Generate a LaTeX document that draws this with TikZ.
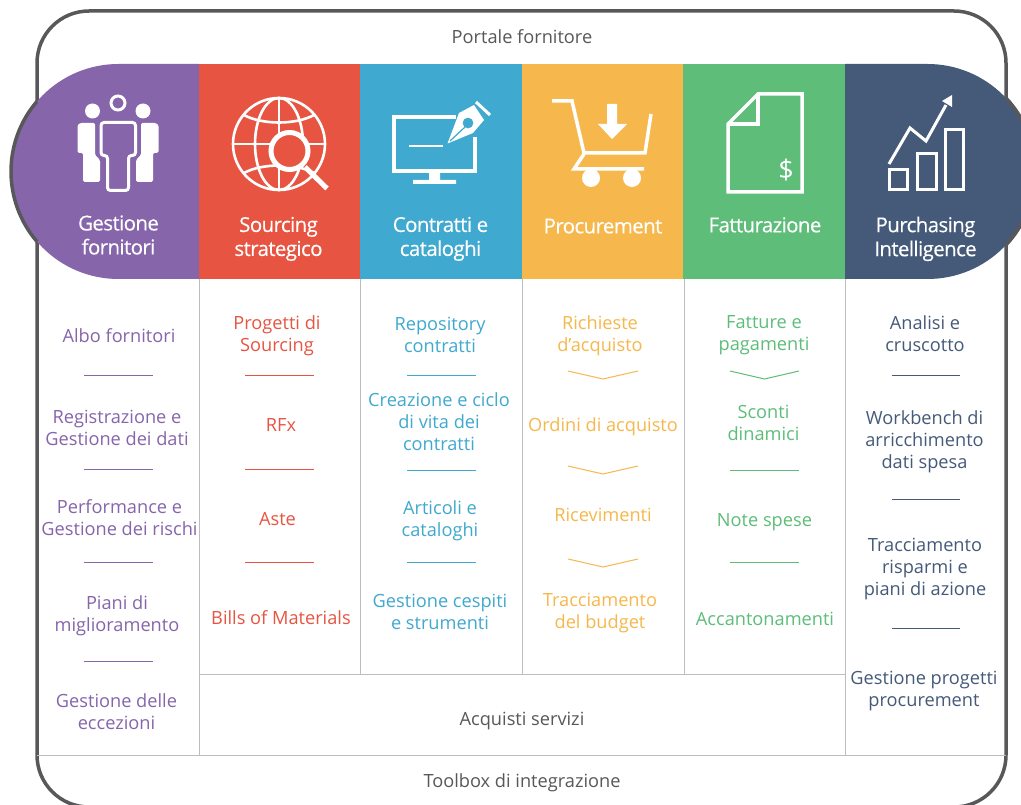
\documentclass[tikz,border=0pt]{standalone}
\usepackage{fontspec}
\setmainfont{Open Sans}
\definecolor{cpur}{HTML}{8665AB}
\definecolor{cred}{HTML}{E75542}
\definecolor{cblu}{HTML}{40A9CF}
\definecolor{cora}{HTML}{F6B84C}
\definecolor{cgre}{HTML}{5DBD79}
\definecolor{cnav}{HTML}{455A79}
\definecolor{cfrm}{HTML}{58585A}
\definecolor{cgrid}{HTML}{BDBDBD}
\definecolor{ctxt}{HTML}{58585A}
\tikzset{
  x=1pt,y=-1pt,
  bodytxt/.style={align=center,inner sep=0pt,yshift=-0.7pt,font=\fontsize{18.2}{22}\selectfont,execute at begin node=\strut,execute at end node=\strut},
  headtxt/.style={align=center,inner sep=0pt,text=white,font=\fontsize{20.5}{24}\selectfont\addfontfeatures{LetterSpace=-3,FakeBold=0.25},execute at begin node=\strut,execute at end node=\strut},
  framelab/.style={bodytxt,text=ctxt},
  frameline/.style={draw=cfrm,line width=3.5pt},
  gridline/.style={draw=cgrid,line width=1pt},
  sepline/.style={line width=1pt},
  ico/.style={draw=white,line width=3pt,fill=none,miter limit=10},
}
\begin{document}
\begin{tikzpicture}
\useasboundingbox (0,0) rectangle (1021,805);
\clip (0,0) rectangle (1021,805);
\fill[white] (0,0) rectangle (1021,805);
% frame
\draw[frameline,rounded corners=52pt] (37,11) rectangle (1006,807);
% grid
\draw[gridline] (199,279) -- (199,755);
\draw[gridline] (360.5,279) -- (360.5,674);
\draw[gridline] (522,279) -- (522,674);
\draw[gridline] (684,279) -- (684,674);
\draw[gridline] (845,279) -- (845,755);
\draw[gridline] (199,674) -- (845,674);
\draw[gridline] (37,755) -- (1006,755);
% header bands
\fill[cpur] (199,64) -- (118.5,64) arc[start angle=-90,end angle=-270,radius=107.5] -- (199,279) -- cycle;
\fill[cred] (199,64) rectangle (360,279);
\fill[cblu] (360,64) rectangle (522,279);
\fill[cora] (522,64) rectangle (683,279);
\fill[cgre] (683,64) rectangle (845,279);
\fill[cnav] (845,64) -- (927.5,64) arc[start angle=-90,end angle=90,radius=107.5] -- (845,279) -- cycle;
% outer arcs of the caps
\draw[frameline] (118.5,171.5) ++(139.3:107.5) arc[start angle=139.3,end angle=220.7,radius=107.5];
\draw[frameline] (927.5,171.5) ++(-43.1:107.5) arc[start angle=-43.1,end angle=43.1,radius=107.5];
% people icon
\fill[white] (92.5,111) circle[radius=7.5] (143,111) circle[radius=7.5];
\draw[white,line width=3pt] (118,103) circle[radius=7];
\fill[white,rounded corners=1.5pt] (77.5,153) -- (77.5,125) -- (80,123) -- (95,123) -- (95,155) -- (100,160) -- (100,182) -- (83,182) -- (83,153) -- cycle;
\fill[white,rounded corners=1.5pt] (158.5,153) -- (158.5,125) -- (156,123) -- (141,123) -- (141,155) -- (136,160) -- (136,182) -- (153,182) -- (153,153) -- cycle;
\draw[white,line width=3pt,fill=cpur,rounded corners=3pt] (101,122.5) -- (135.5,122.5) -- (135.5,155.5) -- (128.5,155.5) -- (128.5,190.5) -- (107.5,190.5) -- (107.5,155.5) -- (101,155.5) -- cycle;
% globe icon
\begin{scope}[white,line width=2.6pt]
\draw (279,144) circle[radius=46];
\draw (279,144) ellipse[x radius=24,y radius=46];
\draw (233,144) -- (325,144) (279,98) -- (279,190);
\draw (244,115) .. controls (262,125) and (296,125) .. (314,115);
\draw (244,173) .. controls (262,163) and (296,163) .. (314,173);
\end{scope}
\draw[white,line width=5pt,fill=cred] (289.5,151) circle[radius=18.5];
\draw[white,line width=5pt] (305,167) -- (327,188.5);
% contract icon
\draw[ico,line width=4pt] (456,117) -- (394,117) -- (394,170.7) -- (474.5,170.7) -- (474.5,137);
\fill[white] (429,172) rectangle (440,180) (413,180) rectangle (456,184);
\draw[white,line width=1.7pt] (409,145.7) -- (443,145.7);
\fill[white,even odd rule] (447.5,143.5) -- (459,113) -- (474,105) -- (484,120) -- (473,133) -- cycle (468,123) circle[radius=5.5];
\draw[cblu,line width=1.2pt] (450,141) -- (465,127);
\draw[white,line width=3pt] (476,102) -- (490,115);
% cart icon
\draw[ico,line width=3.5pt] (552,101) -- (572,101) -- (584,153) -- (645,153) -- (651,114);
\draw[ico,line width=3.5pt] (584,154) -- (574,169) -- (644,169);
\fill[white] (591,178) circle[radius=9] (632,178) circle[radius=9];
\fill[white] (607,104) -- (617,104) -- (617,124) -- (627,124) -- (612,139) -- (598,124) -- (607,124) -- cycle;
% invoice icon
\draw[ico,line width=3.5pt] (728,124) -- (758,94) -- (802,94) -- (802,192) -- (728,192) -- cycle;
\draw[ico,line width=3.5pt] (758,94) -- (758,124) -- (728,124);
\node[inner sep=0pt,text=white,font=\fontsize{27}{27}\selectfont] (dollar) at (786,170) {\$};
% chart icon
\draw[ico] (889.5,170) rectangle (907.5,190) (917.5,154) rectangle (936,190) (945.5,130) rectangle (963,190);
\draw[white,line width=3pt] (889,164) -- (910,128) -- (926,141) -- (946,105);
\fill[white] (952,95) -- (952,107) -- (942,101) -- cycle;
% head texts
\node[headtxt] (h1) at (118.5,238.5) {Gestione\\fornitori};
\node[headtxt] (h2) at (278.5,240) {Sourcing\\strategico};
\node[headtxt] (h3) at (440.5,240) {Contratti e\\cataloghi};
\node[headtxt] (h4) at (603,228.5) {Procurement};
\node[headtxt] (h5) at (765,227.5) {Fatturazione};
\node[headtxt] (h6) at (925.5,240) {Purchasing\\Intelligence};
% frame labels
\node[framelab] (top) at (522,38.5) {Portale fornitore};
\node[framelab] (serv) at (522,720) {Acquisti servizi};
\node[framelab] (tool) at (522,782.5) {Toolbox di integrazione};
% purple
\begin{scope}[every node/.append style={bodytxt,text=cpur}]
\node (p1) at (119,337) {Albo fornitori};
\node (p2) at (117,430) {Registrazione e\\Gestione dei dati};
\node (p3) at (119.5,520) {Performance e\\Gestione dei rischi};
\node (p4) at (117,616) {Piani di\\miglioramento};
\node (p5) at (116.5,714) {Gestione delle\\eccezioni};
\end{scope}
\foreach \y in {375,469,562,661} \draw[sepline,cpur] (84,\y) -- (153,\y);
% red
\begin{scope}[every node/.append style={bodytxt,text=cred}]
\node (r1) at (277,336) {Progetti di\\Sourcing};
\node (r2) at (281,426) {RFx};
\node (r3) at (277.5,520) {Aste};
\node (r4) at (281,619) {Bills of Materials};
\end{scope}
\foreach \y in {375,469,562} \draw[sepline,cred] (245,\y) -- (314,\y);
% blue
\begin{scope}[every node/.append style={bodytxt,text=cblu}]
\node (b1) at (440,337) {Repository\\contratti};
\node (b2) at (439,424) {Creazione e ciclo\\di vita dei\\contratti};
\node (b3) at (440,521) {Articoli e\\cataloghi};
\node (b4) at (440,614) {Gestione cespiti\\e strumenti};
\end{scope}
\foreach \y in {375,470,562} \draw[sepline,cblu] (407,\y) -- (476,\y);
% orange
\begin{scope}[every node/.append style={bodytxt,text=cora}]
\node (o1) at (600,336) {Richieste\\d’acquisto};
\node (o2) at (603,426) {Ordini di acquisto};
\node (o3) at (603,516) {Ricevimenti};
\node (o4) at (600,613) {Tracciamento\\del budget};
\end{scope}
\foreach \y in {371,466,559} \draw[sepline,cora] (568,\y) -- (603,\y+8) -- (638,\y);
% green
\begin{scope}[every node/.append style={bodytxt,text=cgre}]
\node (g1) at (764,336) {Fatture e\\pagamenti};
\node (g2) at (763.5,425) {Sconti\\dinamici};
\node (g3) at (764.5,521) {Note spese};
\node (g4) at (765,620) {Accantonamenti};
\end{scope}
\draw[sepline,cgre] (730,371) -- (764.5,379) -- (799,371);
\foreach \y in {470,562} \draw[sepline,cgre] (730,\y) -- (799,\y);
% navy
\begin{scope}[every node/.append style={bodytxt,text=cnav}]
\node (n1) at (925,336) {Analisi e\\cruscotto};
\node (n2) at (924.5,442) {Workbench di\\arricchimento\\dati spesa};
\node (n3) at (925,569) {Tracciamento\\risparmi e\\piani di azione};
\node (n4) at (924,691) {Gestione progetti\\procurement};
\end{scope}
\foreach \y in {375,499,628} \draw[sepline,cnav] (892,\y) -- (960,\y);
\end{tikzpicture}
\end{document}
